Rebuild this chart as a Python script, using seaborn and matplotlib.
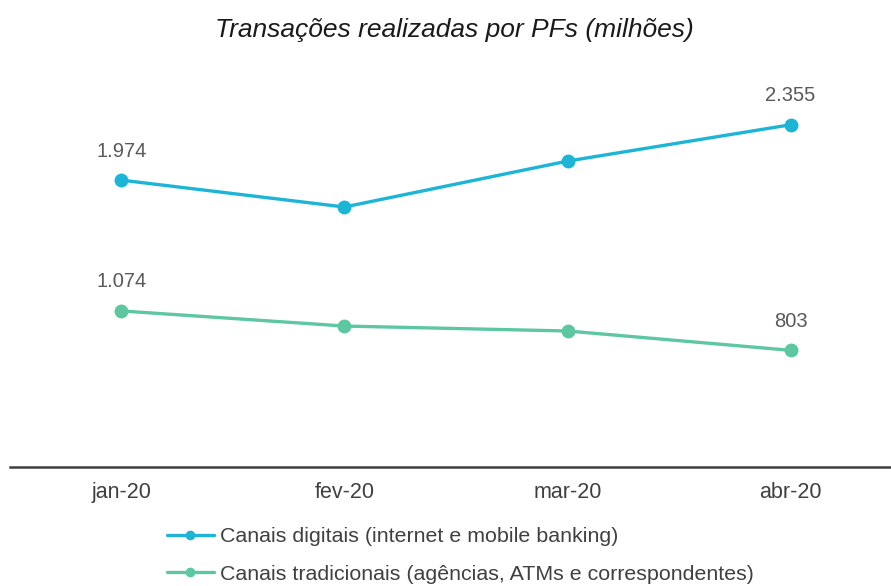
import numpy as np
import matplotlib
matplotlib.use('Agg')
import matplotlib.pyplot as plt
import pandas as pd
import seaborn as sns

# data
meses = ['jan-20', 'fev-20', 'mar-20', 'abr-20']
digitais = [1974, 1789, 2105, 2355]
tradicionais = [1074, 970, 936, 803]
series_names = ['Canais digitais (internet e mobile banking)',
                'Canais tradicionais (agências, ATMs e correspondentes)']
cores = ['#1cb5d6', '#5cc7a0']

df = pd.DataFrame({
    'x': list(range(len(meses))) * 2,
    'valor': digitais + tradicionais,
    'serie': [series_names[0]] * 4 + [series_names[1]] * 4,
})

sns.set_style('white')
plt.rcParams['font.family'] = ['Liberation Sans', 'DejaVu Sans']

fig = plt.figure(figsize=(8.91, 5.86), dpi=100)
ax = fig.add_axes([0.011, 0.203, 0.989, 0.6945])

sns.lineplot(data=df, x='x', y='valor', hue='serie', palette=cores,
             marker='o', markersize=10, markeredgewidth=0, linewidth=2.4,
             ax=ax, legend=False)

ax.set_xlim(-0.5, 3.45)
ax.set_ylim(0, 2800)
ax.set_xticks(range(len(meses)))
ax.set_xticklabels(meses, fontsize=15.5, color='#404040')
ax.tick_params(axis='x', length=0, pad=11)
ax.set_yticks([])
ax.set_xlabel('')
ax.set_ylabel('')
for s in ['top', 'right', 'left']:
    ax.spines[s].set_visible(False)
ax.spines['bottom'].set_color('#404040')
ax.spines['bottom'].set_linewidth(1.8)

def fmt(v):
    return f'{v:,}'.replace(',', '.')

# rótulos no primeiro e no último ponto
for vals in [digitais, tradicionais]:
    for i in [0, len(vals) - 1]:
        ax.annotate(fmt(vals[i]), (i, vals[i]), xytext=(0, 14),
                    textcoords='offset points', ha='center', va='bottom',
                    fontsize=14.5, color='#595959')

fig.text(0.51, 0.948, 'Transações realizadas por PFs (milhões)', ha='center',
         va='center', fontsize=19, style='italic', color='#1a1a1a')

handles = [plt.Line2D([], [], color=c, marker='o', markersize=6, linewidth=2.4)
           for c in cores]
fig.legend(handles, series_names, loc='upper left', bbox_to_anchor=(0.187, 0.1),
           frameon=False, fontsize=15.4, labelcolor='#404040', handlelength=2.2,
           handletextpad=0.3, labelspacing=0.85, borderaxespad=0, borderpad=0)

fig.savefig('out.png', dpi=100, facecolor='white')
